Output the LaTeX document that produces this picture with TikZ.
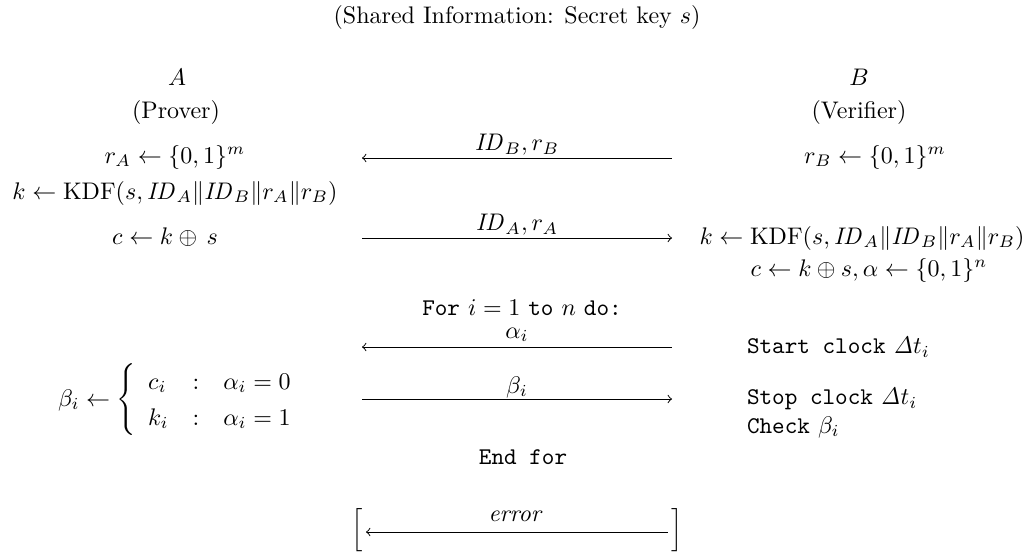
\documentclass[tikz,border=0pt]{standalone}
\usepackage{amsmath}
\begin{document}
\begin{tikzpicture}[x=0.4167pt,y=-0.4167pt,
  txt/.style={inner sep=0pt,outer sep=0pt,anchor=center},
  lft/.style={inner sep=0pt,outer sep=0pt,anchor=west},
  msg/.style={line width=0.4pt}]
\useasboundingbox (0,0) rectangle (1027,555);
% title
\node[txt] (title) at (517,17) {(Shared Information: Secret key $s$)};
% parties
\node[txt] (A) at (177,77) {$A$};
\node[txt] (Ap) at (176,112) {(Prover)};
\node[txt] (B) at (859,77) {$B$};
\node[txt] (Bv) at (859,112) {(Verifier)};
% left column
\node[txt] (rA) at (175,157) {$r_A \leftarrow \{0,1\}^m$};
\node[txt] (kA) at (175,193) {$k \leftarrow \mathrm{KDF}(s, \mathit{ID}_A \| \mathit{ID}_B \| r_A \| r_B)$};
\node[txt] (cA) at (165,237) {$c \leftarrow k \oplus \, s$};
\node[lft] (bA) at (58,400) {$\beta_i \leftarrow \left\{\def\arraystretch{1.25}\begin{array}{lcl} c_i & : & \alpha_i = 0\\ k_i & : & \alpha_i = 1\end{array}\right.$};
% right column
\node[txt] (rB) at (875,157) {$r_B \leftarrow \{0,1\}^m$};
\node[txt] (kB) at (862,238) {$k \leftarrow \mathrm{KDF}(s, \mathit{ID}_A \| \mathit{ID}_B \| r_A \| r_B)$};
\node[txt] (cB) at (869,270) {$c \leftarrow k \oplus s, \alpha \leftarrow \{0,1\}^n$};
\node[lft] (st) at (747,347) {\texttt{Start clock} $\mathit{\Delta} t_i$};
\node[lft] (sp) at (747,399) {\texttt{Stop clock} $\mathit{\Delta} t_i$};
\node[lft] (ck) at (747,427) {\texttt{Check} $\beta_i$};
% middle
\node[txt] (for) at (522,308) {\texttt{For} $i=1$ \texttt{to} $n$ \texttt{do:}};
\node[txt] (endf) at (523,457) {\texttt{End for}};
% message 1
\coordinate (m1l) at (362,158);
\coordinate (m1r) at (672,158);
\draw[msg,<-] (m1l) -- (m1r);
\node[txt] (l1) at (517,145) {$\mathit{ID}_B, r_B$};
% message 2
\coordinate (m2l) at (362,238);
\coordinate (m2r) at (672,238);
\draw[msg,->] (m2l) -- (m2r);
\node[txt] (l2) at (517,225) {$\mathit{ID}_A, r_A$};
% alpha
\coordinate (m3l) at (362,347);
\coordinate (m3r) at (672,347);
\draw[msg,<-] (m3l) -- (m3r);
\node[txt] (l3) at (517,335) {$\alpha_i$};
% beta
\coordinate (m4l) at (362,399);
\coordinate (m4r) at (672,399);
\draw[msg,->] (m4l) -- (m4r);
\node[txt] (l4) at (517,387) {$\beta_i$};
% error
\node[txt] (bl) at (357,530) {$\Big[$};
\node[txt] (br) at (677,530) {$\Big]$};
\coordinate (m5l) at (366,532);
\coordinate (m5r) at (668,532);
\draw[msg,<-] (m5l) -- (m5r);
\node[txt] (l5) at (516,516) {$\mathit{error}$};
\end{tikzpicture}
\end{document}
